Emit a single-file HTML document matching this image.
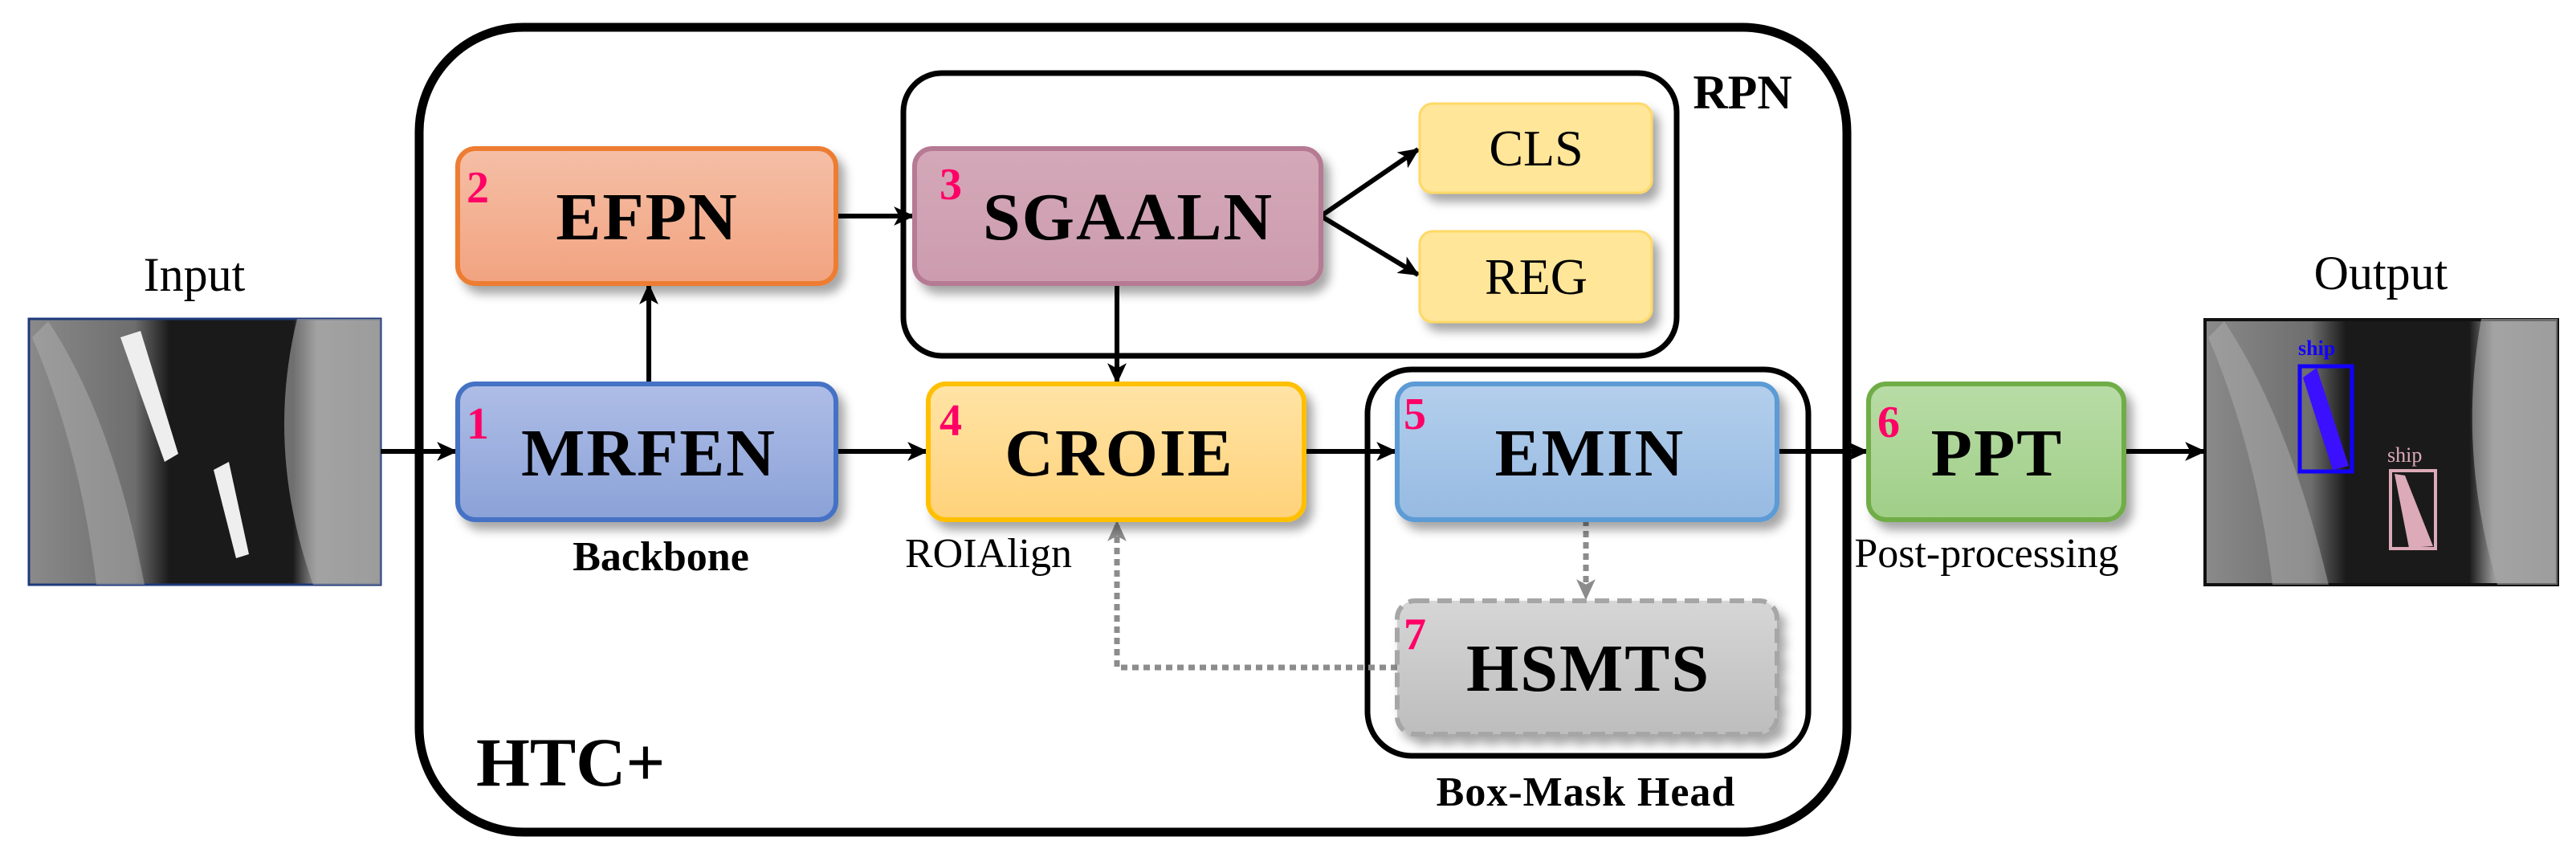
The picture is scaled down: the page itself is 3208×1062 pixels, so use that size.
<!DOCTYPE html>
<html><head><meta charset="utf-8"><style>
html,body{margin:0;padding:0;background:#fff;}
svg{display:block;}
text{font-family:"Liberation Serif",serif;}
</style></head><body>
<svg width="3208" height="1062" viewBox="0 0 3208 1062" xmlns="http://www.w3.org/2000/svg">
<defs>
<filter id="sh" x="-10%" y="-10%" width="130%" height="140%"><feDropShadow dx="8" dy="10" stdDeviation="6" flood-color="#000" flood-opacity="0.35"/></filter>
<linearGradient id="gE" x1="0" y1="0" x2="0" y2="1"><stop offset="0" stop-color="#f5bfa6"/><stop offset="1" stop-color="#f2a380"/></linearGradient>
<linearGradient id="gM" x1="0" y1="0" x2="0" y2="1"><stop offset="0" stop-color="#aebde6"/><stop offset="1" stop-color="#8ba2d8"/></linearGradient>
<linearGradient id="gS" x1="0" y1="0" x2="0" y2="1"><stop offset="0" stop-color="#d4a8b8"/><stop offset="1" stop-color="#cc9cae"/></linearGradient>
<linearGradient id="gC" x1="0" y1="0" x2="0" y2="1"><stop offset="0" stop-color="#ffe4a6"/><stop offset="1" stop-color="#ffd27a"/></linearGradient>
<linearGradient id="gB" x1="0" y1="0" x2="0" y2="1"><stop offset="0" stop-color="#b3cfec"/><stop offset="1" stop-color="#97bae2"/></linearGradient>
<linearGradient id="gP" x1="0" y1="0" x2="0" y2="1"><stop offset="0" stop-color="#b8dca6"/><stop offset="1" stop-color="#a0cf88"/></linearGradient>
<linearGradient id="gH" x1="0" y1="0" x2="0" y2="1"><stop offset="0" stop-color="#d6d6d6"/><stop offset="1" stop-color="#bdbdbd"/></linearGradient>
<linearGradient id="sar" x1="0" y1="0" x2="1" y2="0"><stop offset="0" stop-color="#8a8a8a"/><stop offset="0.3" stop-color="#6e6e6e"/><stop offset="0.4" stop-color="#1a1a1a"/><stop offset="0.75" stop-color="#1a1a1a"/><stop offset="0.82" stop-color="#9a9a9a"/><stop offset="1" stop-color="#8a8a8a"/></linearGradient>
<marker id="ar" viewBox="0 0 24 24" refX="22" refY="12" markerWidth="26" markerHeight="26" markerUnits="userSpaceOnUse" orient="auto"><path d="M0,1 L24,12 L0,23 L6,12 Z" fill="#000"/></marker>
<marker id="ag" viewBox="0 0 24 24" refX="22" refY="12" markerWidth="26" markerHeight="26" markerUnits="userSpaceOnUse" orient="auto"><path d="M0,1 L24,12 L0,23 L6,12 Z" fill="#8c8c8c"/></marker>
</defs>

<rect x="522" y="34" width="1778" height="1002" rx="130" fill="none" stroke="#000" stroke-width="11"/>
<rect x="1125" y="91" width="963" height="352" rx="48" fill="none" stroke="#000" stroke-width="7"/>
<rect x="1703" y="460" width="549" height="481" rx="55" fill="none" stroke="#000" stroke-width="7"/>

<rect x="36" y="397" width="438" height="331" fill="url(#sar)" stroke="#1f3a7a" stroke-width="3"/>
<path d="M60,400 Q140,520 180,728 L120,728 Q100,560 40,420 Z" fill="#b0b0b0" opacity="0.5"/>
<path d="M370,397 Q330,560 390,728 L474,728 L474,397 Z" fill="#a8a8a8" opacity="0.6"/>
<path d="M150,420 L175,412 L222,565 L205,575 Z" fill="#eee"/>
<path d="M266,585 L285,575 L310,690 L294,695 Z" fill="#eee"/>
<rect x="2746" y="398" width="439" height="330" fill="url(#sar)" stroke="#111" stroke-width="4"/>
<path d="M2770,400 Q2850,520 2900,728 L2830,728 Q2810,560 2750,420 Z" fill="#b0b0b0" opacity="0.5"/>
<path d="M3090,397 Q3060,560 3110,728 L3185,728 L3185,397 Z" fill="#aaa" opacity="0.6"/>
<path d="M2868,470 L2885,458 L2925,580 L2905,585 Z" fill="#3a10ff"/>
<rect x="2864" y="456" width="65" height="131" fill="none" stroke="#1400ff" stroke-width="5"/>
<text x="2862" y="442" font-size="26" fill="#1400ff" font-weight="bold">ship</text>
<path d="M2982,590 L2995,592 L3030,680 L3000,682 Z" fill="#dcaab8"/>
<rect x="2977" y="586" width="56" height="97" fill="none" stroke="#dcaab8" stroke-width="4"/>
<text x="2973" y="575" font-size="26" fill="#dcaab8">ship</text>

<text x="242" y="362" font-size="60" text-anchor="middle">Input</text>
<text x="2965" y="360" font-size="60" text-anchor="middle">Output</text>

<g stroke="#000" stroke-width="6" fill="none">
<line x1="474" y1="562" x2="568" y2="562" marker-end="url(#ar)"/>
<line x1="808" y1="478" x2="808" y2="355" marker-end="url(#ar)"/>
<line x1="1041" y1="269" x2="1137" y2="269" marker-end="url(#ar)"/>
<line x1="1391" y1="353" x2="1391" y2="476" marker-end="url(#ar)"/>
<line x1="1041" y1="562" x2="1154" y2="562" marker-end="url(#ar)"/>
<line x1="1645" y1="269" x2="1766" y2="186" marker-end="url(#ar)"/>
<line x1="1645" y1="269" x2="1766" y2="342" marker-end="url(#ar)"/>
<line x1="1624" y1="562" x2="1738" y2="562" marker-end="url(#ar)"/>
<line x1="2213" y1="562" x2="2325" y2="562" marker-end="url(#ar)"/>
<line x1="2645" y1="562" x2="2745" y2="562" marker-end="url(#ar)"/>
</g>
<g stroke="#8c8c8c" stroke-width="7" fill="none" stroke-dasharray="8,6">
<line x1="1975" y1="647" x2="1975" y2="745" marker-end="url(#ag)"/>
<polyline points="1740,831 1391,831 1391,650" marker-end="url(#ag)"/>
</g>

<g filter="url(#sh)" stroke-width="6">
<rect x="570" y="185" width="471" height="168" rx="22" fill="url(#gE)" stroke="#ed7d31"/>
<rect x="570" y="478" width="471" height="169" rx="22" fill="url(#gM)" stroke="#4472c4"/>
<rect x="1139" y="185" width="506" height="168" rx="22" fill="url(#gS)" stroke="#b67a93"/>
<rect x="1156" y="478" width="468" height="169" rx="22" fill="url(#gC)" stroke="#ffc000"/>
<rect x="1768" y="129" width="289" height="111" rx="16" fill="#ffe699" stroke="#ffd966" stroke-width="3"/>
<rect x="1768" y="288" width="289" height="113" rx="16" fill="#ffe699" stroke="#ffd966" stroke-width="3"/>
<rect x="1740" y="478" width="473" height="169" rx="22" fill="url(#gB)" stroke="#5b9bd5"/>
<rect x="2327" y="478" width="318" height="169" rx="22" fill="url(#gP)" stroke="#70ad47"/>
<rect x="1740" y="748" width="473" height="166" rx="22" fill="url(#gH)" stroke="#a6a6a6" stroke-dasharray="18,10"/>
</g>

<g font-weight="bold" font-size="84" text-anchor="middle" letter-spacing="2">
<text x="806" y="298">EFPN</text>
<text x="808" y="592">MRFEN</text>
<text x="1405" y="298">SGAALN</text>
<text x="1394" y="592">CROIE</text>
<text x="1980" y="592">EMIN</text>
<text x="2487" y="592">PPT</text>
<text x="1978" y="860">HSMTS</text>
</g>
<g font-size="64" text-anchor="middle">
<text x="1913" y="206">CLS</text>
<text x="1913" y="366">REG</text>
</g>
<g fill="#ff0066" font-weight="bold" font-size="56">
<text x="581" y="252">2</text>
<text x="581" y="546">1</text>
<text x="1170" y="248">3</text>
<text x="1170" y="542">4</text>
<text x="1748" y="534">5</text>
<text x="2338" y="544">6</text>
<text x="1748" y="808">7</text>
</g>
<text x="823" y="710" font-size="52" font-weight="bold" text-anchor="middle">Backbone</text>
<text x="1231" y="706" font-size="52" text-anchor="middle">ROIAlign</text>
<text x="2474" y="706" font-size="52" text-anchor="middle">Post-processing</text>
<text x="1975" y="1003" font-size="52" font-weight="bold" text-anchor="middle" letter-spacing="1">Box-Mask  Head</text>
<text x="2170" y="135" font-size="60" font-weight="bold" text-anchor="middle">RPN</text>
<text x="593" y="978" font-size="86" font-weight="bold">HTC+</text>
</svg>
</body></html>
